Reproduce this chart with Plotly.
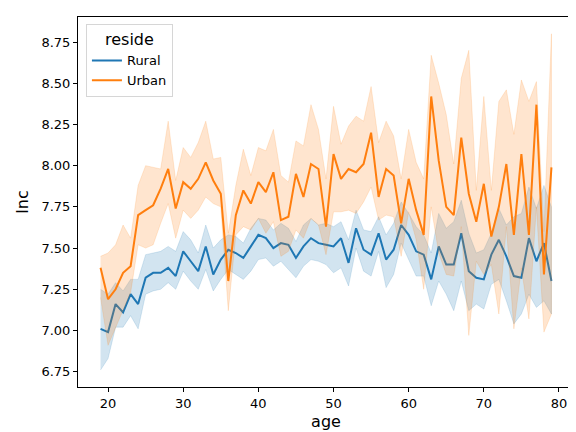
import plotly.graph_objects as go

ages = list(range(19, 80))

rural_mean = [7.01, 6.99, 7.16, 7.11, 7.22, 7.16, 7.32, 7.35, 7.35, 7.38,
              7.33, 7.48, 7.42, 7.36, 7.51, 7.34, 7.43, 7.49, 7.47, 7.44,
              7.51, 7.58, 7.56, 7.50, 7.53, 7.52, 7.44, 7.51, 7.56, 7.53,
              7.52, 7.51, 7.56, 7.41, 7.62, 7.49, 7.46, 7.59, 7.43, 7.49,
              7.64, 7.58, 7.48, 7.46, 7.31, 7.51, 7.40, 7.40, 7.59, 7.36,
              7.32, 7.31, 7.46, 7.55, 7.45, 7.33, 7.32, 7.56, 7.42, 7.53,
              7.30]
rural_upper = [7.25, 7.22, 7.29, 7.24, 7.31, 7.31, 7.46, 7.47, 7.48, 7.51,
               7.48, 7.60, 7.55, 7.47, 7.64, 7.50, 7.55, 7.58, 7.57, 7.53,
               7.62, 7.68, 7.67, 7.61, 7.65, 7.62, 7.54, 7.64, 7.68, 7.64,
               7.65, 7.63, 7.66, 7.55, 7.73, 7.61, 7.60, 7.69, 7.58, 7.65,
               7.78, 7.71, 7.63, 7.58, 7.47, 7.71, 7.62, 7.66, 7.79, 7.59,
               7.47, 7.49, 7.59, 7.74, 7.64, 7.69, 7.71, 7.87, 7.74, 7.88,
               7.75]
rural_lower = [6.76, 6.83, 7.02, 7.02, 7.09, 7.01, 7.22, 7.24, 7.25, 7.29,
               7.25, 7.36, 7.30, 7.25, 7.37, 7.24, 7.31, 7.37, 7.34, 7.31,
               7.36, 7.43, 7.44, 7.39, 7.42, 7.37, 7.32, 7.39, 7.43, 7.42,
               7.40, 7.35, 7.38, 7.27, 7.50, 7.36, 7.33, 7.48, 7.26, 7.34,
               7.53, 7.43, 7.33, 7.33, 7.15, 7.30, 7.22, 7.12, 7.30, 7.12,
               7.16, 7.13, 7.28, 7.31, 7.18, 7.04, 7.10, 7.22, 7.14, 7.18,
               7.10]

urban_mean = [7.38, 7.19, 7.25, 7.35, 7.39, 7.70, 7.73, 7.76, 7.86, 7.98,
              7.74, 7.90, 7.86, 7.92, 8.02, 7.91, 7.83, 7.30, 7.70, 7.85,
              7.77, 7.90, 7.84, 7.96, 7.67, 7.69, 7.95, 7.81, 8.01, 7.98,
              7.63, 8.07, 7.92, 7.98, 7.96, 8.01, 8.20, 7.81, 7.98, 7.94,
              7.65, 7.92, 7.73, 7.58, 8.42, 8.03, 7.75, 7.70, 8.17, 7.83,
              7.66, 7.89, 7.57, 7.75, 8.01, 7.58, 8.07, 7.58, 8.37, 7.34,
              7.99]
urban_upper = [7.45, 7.47, 7.52, 7.64, 7.56, 7.88, 8.00, 7.99, 7.98, 8.27,
               7.91, 8.11, 8.05, 8.14, 8.27, 8.04, 8.05, 7.59, 7.88, 8.10,
               7.94, 8.11, 8.09, 8.22, 7.94, 7.90, 8.15, 8.12, 8.37, 8.22,
               7.92, 8.36, 8.13, 8.24, 8.30, 8.27, 8.48, 8.14, 8.27, 8.18,
               7.92, 8.22, 8.02, 7.92, 8.67, 8.50, 8.31, 8.01, 8.53, 8.70,
               7.85, 8.42, 7.85, 8.39, 8.46, 8.19, 8.52, 8.39, 8.51, 7.60,
               8.80]
urban_lower = [7.20, 6.91, 7.02, 7.12, 7.23, 7.52, 7.50, 7.52, 7.65, 7.77,
               7.56, 7.73, 7.68, 7.73, 7.81, 7.77, 7.75, 7.12, 7.58, 7.63,
               7.61, 7.68, 7.59, 7.66, 7.45, 7.48, 7.61, 7.56, 7.68, 7.64,
               7.46, 7.72, 7.72, 7.73, 7.71, 7.78, 7.87, 7.67, 7.70, 7.69,
               7.45, 7.72, 7.55, 7.25, 7.75, 7.47, 7.34, 7.33, 7.63, 6.97,
               7.42, 7.34, 7.40, 7.10, 7.63, 7.01, 7.38, 7.07, 7.75, 6.99,
               7.10]

groups = [
    ("Rural", rural_mean, rural_upper, rural_lower, "#1f77b4", "rgba(31,119,180,0.2)"),
    ("Urban", urban_mean, urban_upper, urban_lower, "#ff7f0e", "rgba(255,127,14,0.2)"),
]

fig = go.Figure()
for name, mean, upper, lower, col, band in groups:
    fig.add_trace(go.Scatter(x=ages, y=mean, mode="lines", name=name,
                             line=dict(color=col, width=2)))
    # confidence band as one closed polygon
    fig.add_trace(go.Scatter(x=ages + ages[::-1], y=upper + lower[::-1],
                             fill="toself", fillcolor=band, mode="lines",
                             line=dict(color=band, width=0.8),
                             hoverinfo="skip", showlegend=False))

fig.update_layout(
    width=576, height=432,
    margin=dict(l=70, r=10, t=9, b=53),
    plot_bgcolor="white", paper_bgcolor="white",
    font=dict(family="DejaVu Sans", size=13, color="black"),
    legend=dict(
        title=dict(text="reside", side="top center"),
        x=0.016, y=0.982, xanchor="left", yanchor="top",
        bgcolor="white", bordercolor="#d6d6d6", borderwidth=1,
        font=dict(size=13),
    ),
    xaxis=dict(
        title=dict(text="age", standoff=6),
        range=[16, 82], tickvals=[20, 30, 40, 50, 60, 70, 80],
        showgrid=False, zeroline=False,
        showline=True, mirror=True, linecolor="black", linewidth=1,
        ticks="outside", ticklen=4, tickcolor="black",
    ),
    yaxis=dict(
        title=dict(text="lnc", standoff=8),
        range=[6.657, 8.902],
        tickvals=[6.75, 7.0, 7.25, 7.5, 7.75, 8.0, 8.25, 8.5, 8.75],
        ticktext=["6.75", "7.00", "7.25", "7.50", "7.75", "8.00", "8.25", "8.50", "8.75"],
        showgrid=False, zeroline=False,
        showline=True, mirror=True, linecolor="black", linewidth=1,
        ticks="outside", ticklen=4, tickcolor="black",
    ),
)

fig.write_html("out.html")
